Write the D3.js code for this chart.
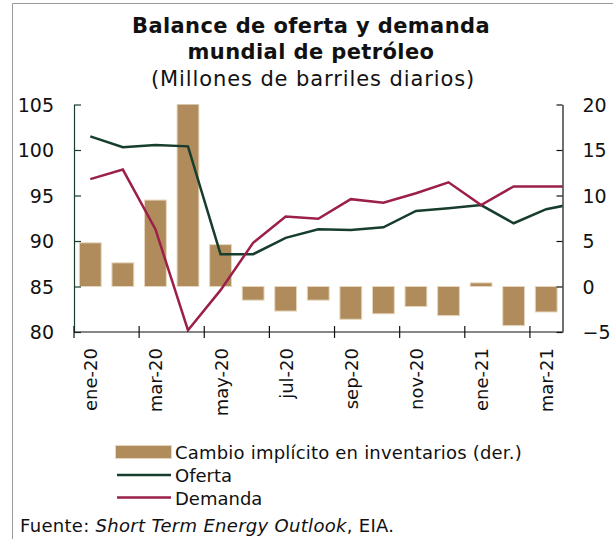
<!DOCTYPE html>
<html lang="es">
  <head>
    <meta charset="UTF-8" />
    <title>Balance de oferta y demanda mundial de petróleo</title>
    <script src="https://d3js.org/d3.v7.min.js"></script>
    <style>
      body { margin: 0; background: #fff; }
      text { font-family: "DejaVu Sans", sans-serif; fill: #111; }
    </style>
  </head>
  <body>
    <div id="chart"></div>

    <script>
      // months shown on the x axis (one bar per month)
      const months = [
        "ene-20", "feb-20", "mar-20", "abr-20", "may-20", "jun-20", "jul-20", "ago-20",
        "sep-20", "oct-20", "nov-20", "dic-20", "ene-21", "feb-21", "mar-21",
      ];
      const tickMonths = ["ene-20", "mar-20", "may-20", "jul-20", "sep-20", "nov-20", "ene-21", "mar-21"];

      // implied change in inventories (right axis)
      const inventarios = [4.8, 2.6, 9.5, 20.5, 4.6, -1.5, -2.7, -1.5, -3.6, -3.0, -2.2, -3.2, 0.4, -4.3, -2.8];
      // supply and demand (left axis); the last value (abr-21) runs past the plot edge and is clipped
      const oferta = [101.5, 100.3, 100.55, 100.4, 88.55, 88.55, 90.35, 91.3, 91.2, 91.5, 93.3, 93.6, 93.95, 91.95, 93.5, 94.2];
      const demanda = [96.8, 97.85, 91.3, 80.2, 84.6, 89.8, 92.7, 92.45, 94.6, 94.2, 95.25, 96.45, 93.95, 96.0, 96.0, 96.0];

      const leftTicks = [80, 85, 90, 95, 100, 105];
      const rightTicks = [-5, 0, 5, 10, 15, 20];

      const W = 613, H = 539;
      const plot = { left: 74, right: 562.5, top: 104.5, bottom: 332 };

      const svg = d3.select("#chart").append("svg").attr("width", W).attr("height", H);

      // frame lines of the original figure box
      svg.append("path")
        .attr("d", `M12.5,${H} V3.5 H${W}`)
        .attr("fill", "none")
        .attr("stroke", "#9a9a9a")
        .attr("stroke-width", 1);

      // title
      const title = svg.append("text").attr("text-anchor", "middle");
      title.append("tspan").attr("x", 311).attr("y", 33).attr("font-weight", 700).attr("font-size", 21)
        .attr("letter-spacing", 0.4).text("Balance de oferta y demanda");
      title.append("tspan").attr("x", 311).attr("y", 59).attr("font-weight", 700).attr("font-size", 21)
        .attr("letter-spacing", 0.4).text("mundial de petróleo");
      title.append("tspan").attr("x", 313).attr("y", 86).attr("font-size", 21)
        .attr("letter-spacing", 0.9).text("(Millones de barriles diarios)");

      // scales
      const x = d3.scaleBand().domain(months).range([plot.left, plot.right]).paddingInner(0.33).paddingOuter(0.165);
      const xi = d3.scaleLinear().domain([0, months.length]).range([plot.left, plot.right]);
      const yL = d3.scaleLinear().domain([80, 105]).range([plot.bottom, plot.top]);
      const yR = d3.scaleLinear().domain([-5, 20]).range([plot.bottom, plot.top]);

      svg.append("clipPath").attr("id", "plotclip")
        .append("rect")
        .attr("x", plot.left).attr("y", plot.top)
        .attr("width", plot.right - plot.left).attr("height", plot.bottom - plot.top);

      const g = svg.append("g").attr("clip-path", "url(#plotclip)");

      // bars
      g.selectAll("rect.bar")
        .data(inventarios)
        .join("rect")
        .attr("class", "bar")
        .attr("x", (d, i) => x(months[i]))
        .attr("width", x.bandwidth())
        .attr("y", (d) => yR(Math.max(0, d)))
        .attr("height", (d) => Math.abs(yR(d) - yR(0)))
        .attr("fill", "#b08c5c")
        .attr("stroke", "#e6d6bd")
        .attr("stroke-width", 1);

      // lines
      const line = (vals) => d3.line()
        .x((d, i) => xi(i + 0.5))
        .y((d) => yL(d))(vals);

      g.append("path").attr("d", line(oferta))
        .attr("fill", "none").attr("stroke", "#173d2d").attr("stroke-width", 2.5);
      g.append("path").attr("d", line(demanda))
        .attr("fill", "none").attr("stroke", "#9c1f4a").attr("stroke-width", 2.5);

      // left axis (ticks point inward)
      const axL = svg.append("g")
        .attr("transform", `translate(${plot.left},0)`)
        .call(d3.axisLeft(yL).tickValues(leftTicks).tickSizeInner(-7).tickSizeOuter(0).tickPadding(20));
      axL.select(".domain").attr("stroke", "#173d2d").attr("stroke-width", 1.2);
      axL.selectAll("line").attr("stroke", "#173d2d").attr("stroke-width", 1.2);
      axL.selectAll("text").attr("font-size", 19).attr("font-family", "DejaVu Sans").attr("fill", "#111").attr("dy", "0.36em");

      // right axis (ticks point inward)
      const axR = svg.append("g")
        .attr("transform", `translate(${plot.right},0)`)
        .call(d3.axisRight(yR).tickValues(rightTicks).tickSizeInner(-6).tickSizeOuter(0).tickPadding(20));
      axR.select(".domain").attr("stroke", "#111").attr("stroke-width", 1.2);
      axR.selectAll("line").attr("stroke", "#111").attr("stroke-width", 1.2);
      axR.selectAll("text").attr("font-size", 19).attr("font-family", "DejaVu Sans").attr("fill", "#111").attr("dy", "0.36em");

      // bottom axis: ticks at the start of every other month, crossing the axis line
      const axB = svg.append("g");
      axB.append("line")
        .attr("x1", plot.left).attr("x2", plot.right)
        .attr("y1", plot.bottom).attr("y2", plot.bottom)
        .attr("stroke", "#111").attr("stroke-width", 1.2);
      axB.selectAll("line.tick")
        .data(tickMonths)
        .join("line")
        .attr("class", "tick")
        .attr("x1", (d) => xi(months.indexOf(d)))
        .attr("x2", (d) => xi(months.indexOf(d)))
        .attr("y1", plot.bottom - 6).attr("y2", plot.bottom + 6)
        .attr("stroke", "#111").attr("stroke-width", 1.2);
      axB.selectAll("text")
        .data(tickMonths)
        .join("text")
        .attr("transform", (d) => `translate(${x(d) + x.bandwidth() / 2 + 7},${plot.bottom + 16}) rotate(-90)`)
        .attr("text-anchor", "end")
        .attr("font-size", 18)
        .text((d) => d);

      // legend
      const lg = svg.append("g");
      lg.append("rect").attr("x", 115.5).attr("y", 445.5).attr("width", 56).attr("height", 13)
        .attr("fill", "#b08c5c").attr("stroke", "#e6d6bd");
      lg.append("text").attr("x", 175).attr("y", 459).attr("font-size", 18).attr("letter-spacing", 0.2)
        .text("Cambio implícito en inventarios (der.)");
      lg.append("line").attr("x1", 117).attr("x2", 171).attr("y1", 475).attr("y2", 475)
        .attr("stroke", "#173d2d").attr("stroke-width", 2.5);
      lg.append("text").attr("x", 175).attr("y", 482).attr("font-size", 18).text("Oferta");
      lg.append("line").attr("x1", 117).attr("x2", 171).attr("y1", 497.5).attr("y2", 497.5)
        .attr("stroke", "#9c1f4a").attr("stroke-width", 2.5);
      lg.append("text").attr("x", 175).attr("y", 505).attr("font-size", 18).text("Demanda");

      // source
      const src = svg.append("text").attr("x", 20).attr("y", 532).attr("font-size", 18).attr("letter-spacing", 0.3);
      src.append("tspan").text("Fuente: ");
      src.append("tspan").attr("font-style", "italic").text("Short Term Energy Outlook");
      src.append("tspan").text(", EIA.");
    </script>
  </body>
</html>
